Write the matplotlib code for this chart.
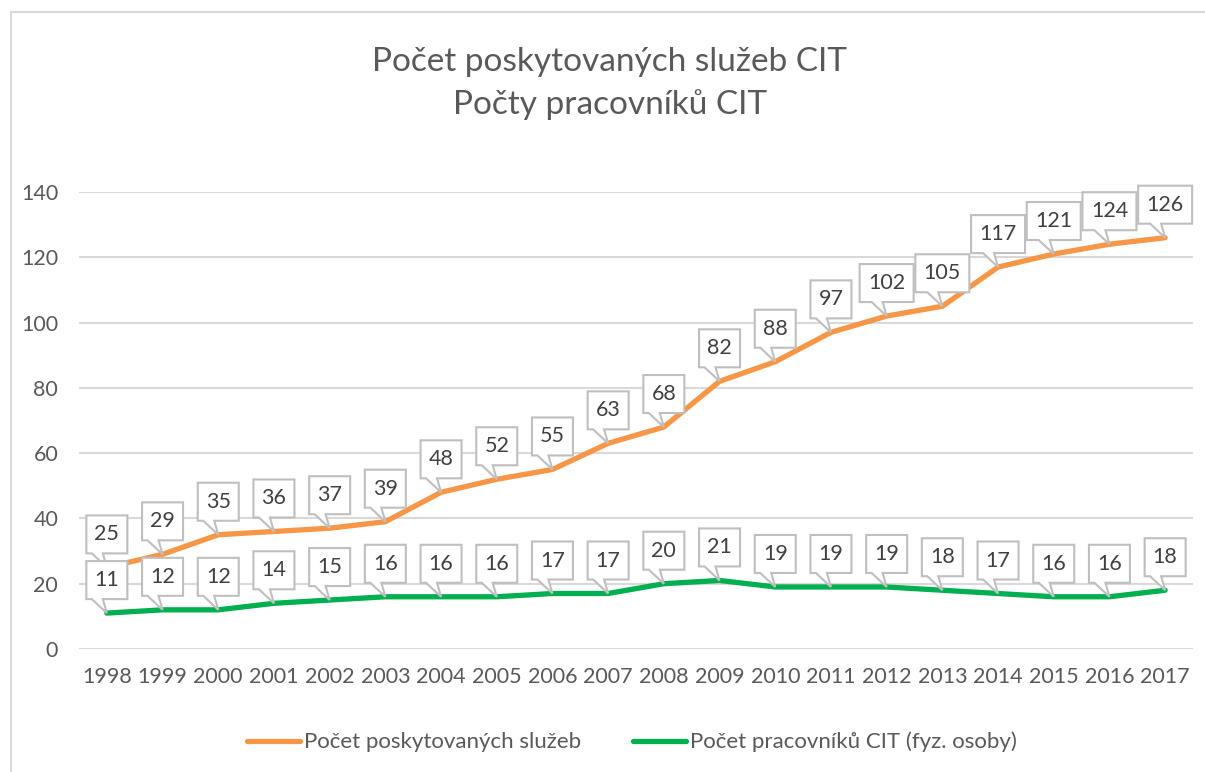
import matplotlib
matplotlib.use("Agg")
import matplotlib.pyplot as plt
from matplotlib.patches import Polygon, Rectangle
from matplotlib.transforms import IdentityTransform, ScaledTranslation
from matplotlib.lines import Line2D

# data
roky = ['1998', '1999', '2000', '2001', '2002', '2003', '2004', '2005', '2006', '2007',
        '2008', '2009', '2010', '2011', '2012', '2013', '2014', '2015', '2016', '2017']
sluzby = [25, 29, 35, 36, 37, 39, 48, 52, 55, 63, 68, 82, 88, 97, 102, 105, 117, 121, 124, 126]
pracovnici = [11, 12, 12, 14, 15, 16, 16, 16, 17, 17, 20, 21, 19, 19, 19, 18, 17, 16, 16, 18]
nazev_sluzby = 'Počet poskytovaných služeb'
nazev_pracovnici = 'Počet pracovníků CIT (fyz. osoby)'

W, H = 1205, 772
plt.rcParams['font.family'] = ['Lato', 'DejaVu Sans']

fig = plt.figure(figsize=(W / 100, H / 100), dpi=100)
ax = fig.add_axes([79 / W, 123 / H, (1193 - 79) / W, (649 - 192) / H])

x = list(range(len(roky)))
ax.plot(x, sluzby, color='#F79646', lw=3.8, solid_capstyle='round', zorder=3)
ax.plot(x, pracovnici, color='#00B050', lw=3.8, solid_capstyle='round', zorder=3)

ax.set_xlim(-0.5, len(roky) - 0.5)
ax.set_ylim(0, 140)
ax.set_yticks(range(0, 141, 20))
ax.set_xticks(x)
ax.set_xticklabels(roky)
ax.grid(axis='y', color='#D9D9D9', lw=1.5)
ax.set_axisbelow(True)
for s in ax.spines.values():
    s.set_visible(False)
ax.tick_params(length=0, labelsize=15.5, colors='#595959')
ax.tick_params(axis='y', pad=15)
ax.tick_params(axis='x', pad=13)


# callout labels like Excel's "wedge rectangle" data labels
def callouts(values, z):
    for i, v in enumerate(values):
        s = str(v)
        w = 13 * len(s) + 15
        tr = IdentityTransform() + ScaledTranslation(i, v, ax.transData)
        verts = [(-w / 2, 14), (-15, 14), (0, 0), (-4, 14), (w / 2, 14),
                 (w / 2, 52), (-w / 2, 52)]
        p = Polygon(verts, closed=True, facecolor='white', edgecolor='#BFBFBF',
                    lw=1.5, transform=tr, zorder=z, clip_on=False)
        ax.add_patch(p)
        ax.annotate(s, (i, v), xytext=(0, 33), textcoords='offset pixels',
                    ha='center', va='center', fontsize=15.5, color='#404040',
                    zorder=z + 0.5, annotation_clip=False)


callouts(sluzby, 5)
callouts(pracovnici, 7)

fig.text(610 / W, 1 - 62 / H, 'Počet poskytovaných služeb CIT', ha='center', va='center',
         fontsize=24, color='#595959')
fig.text(610 / W, 1 - 105 / H, 'Počty pracovníků CIT', ha='center', va='center',
         fontsize=24, color='#595959')

handles = [Line2D([], [], color='#F79646', lw=3.8, solid_capstyle='round'),
           Line2D([], [], color='#00B050', lw=3.8, solid_capstyle='round')]
fig.legend(handles, [nazev_sluzby, nazev_pracovnici], loc='center', ncol=2,
           bbox_to_anchor=(632 / W, 1 - 742 / H), frameon=False, fontsize=16,
           labelcolor='#595959', handlelength=2.4, handletextpad=0.2, columnspacing=2.3)

# chart area border (only left and top visible in the crop)
fig.add_artist(Rectangle((11 / W, -0.1), 1.2, 1.1 - 12 / H, transform=fig.transFigure,
                         fill=False, edgecolor='#D9D9D9', lw=1.5))

fig.savefig('out.png', dpi=100)
